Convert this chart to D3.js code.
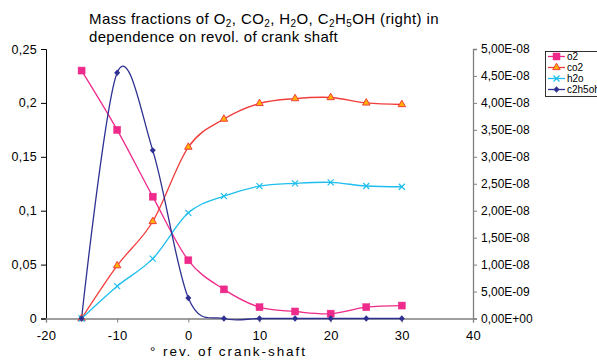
<!DOCTYPE html>
<html><head><meta charset="utf-8">
<script src="https://cdn.jsdelivr.net/npm/d3@7/dist/d3.min.js"></script>
<style>
body{margin:0;background:#fff;}
text{font-family:"Liberation Sans",Arial,sans-serif;}
</style></head>
<body><svg id="c" width="597" height="364"></svg>
<script>
const xs = [-15,-10,-5,0,5,10,15,20,25,30];
const o2 = [0.230,0.175,0.113,0.054,0.027,0.0105,0.0065,0.0045,0.0105,0.012];
const co2 = [0,0.049,0.090,0.159,0.185,0.1995,0.204,0.205,0.200,0.1985];
const h2o = [0,0.030,0.0555,0.098,0.1135,0.1228,0.1254,0.1263,0.1229,0.1222];
const c2h5oh = [0,4.56e-8,3.12e-8,0.38e-8,0,0,0,0,0,0];
const xTicks = [-20,-10,0,10,20,30,40];
const yLeftTicks = [0,0.05,0.1,0.15,0.2,0.25];
const yRightTicks = [0,5e-9,1e-8,1.5e-8,2e-8,2.5e-8,3e-8,3.5e-8,4e-8,4.5e-8,5e-8];
const seriesNames = ["o2","co2","h2o","c2h5oh"];

const svg = d3.select("#c");
const L=46, R=473, T=49, B=318.5;
const x = d3.scaleLinear().domain([-20,40]).range([L,R]);
const yl = d3.scaleLinear().domain([0,0.25]).range([B,T]);
const yr = d3.scaleLinear().domain([0,5e-8]).range([B,T]);

const fmtL = v => String(+v.toFixed(2)).replace(".",",");
const fmtR = v => {
  if (v===0) return "0,00E+00";
  const e = Math.floor(Math.log10(v)+1e-9);
  const m = v/Math.pow(10,e);
  const es = (e<0?"-":"+") + String(Math.abs(e)).padStart(2,"0");
  return m.toFixed(2).replace(".",",")+"E"+es;
};

// axes
const gL = svg.append("g").attr("transform",`translate(${L},0)`)
  .call(d3.axisLeft(yl).tickValues(yLeftTicks).tickFormat(fmtL).tickSize(5).tickPadding(4));
gL.select(".domain").attr("stroke","#000");
gL.selectAll(".tick line").attr("stroke","#000");
gL.selectAll("text").attr("font-size",12.5).attr("fill","#000").attr("letter-spacing",0.3);

const gR = svg.append("g").attr("transform",`translate(${R},0)`)
  .call(d3.axisRight(yr).tickValues(yRightTicks).tickFormat(fmtR).tickSize(4).tickPadding(4));
gR.select(".domain").attr("stroke","#808080").attr("stroke-width",1.3);
gR.selectAll(".tick line").attr("stroke","#808080");
gR.selectAll("text").attr("font-size",12).attr("fill","#000");

const gX = svg.append("g").attr("transform",`translate(0,${B})`)
  .call(d3.axisBottom(x).tickValues(xTicks).tickFormat(d=>String(d)).tickSize(4).tickPadding(8));
gX.select(".domain").attr("stroke","#808080").attr("stroke-width",1.3);
gX.selectAll(".tick line").attr("stroke","#808080");
gX.selectAll("text").attr("font-size",13).attr("fill","#000").attr("letter-spacing",0.3);

// title
const title = svg.append("text").attr("x",89).attr("y",24).attr("font-size",15)
  .attr("letter-spacing",0.4).attr("fill","#000");
const parts = [["Mass fractions of O",0],["2",1],[", CO",0],["2",1],[", H",0],["2",1],["O, C",0],["2",1],["H",0],["5",1],["OH (right) in",0]];
parts.forEach(([t,s],i)=>{
  const prev = i>0 ? parts[i-1][1] : 0;
  const ts = title.append("tspan").text(t)
    .attr("dy", s && !prev ? 3 : (!s && prev ? -3 : 0));
  if(s) ts.attr("font-size",10);
});
svg.append("text").attr("x",89).attr("y",42).attr("font-size",15).attr("letter-spacing",0.3)
  .attr("fill","#000").text("dependence on revol. of crank shaft");

svg.append("text").attr("x",150).attr("y",356)
  .attr("font-size",13.5).attr("fill","#000")
  .attr("textLength",155).attr("lengthAdjust","spacing").text("° rev. of crank-shaft");

// series
const curve = d3.curveCardinal.tension(0);
const series = [
  {name:"o2", vals:o2, y:yl, color:"#EE2A8A", marker:"square", fill:"#EE2A8A"},
  {name:"co2", vals:co2, y:yl, color:"#F23C3C", marker:"triangle", fill:"#FFB000"},
  {name:"h2o", vals:h2o, y:yl, color:"#1EBEEE", marker:"x", fill:"none"},
  {name:"c2h5oh", vals:c2h5oh, y:yr, color:"#2E3192", marker:"diamond", fill:"#2E3192"}
];

function drawMarker(g, type, cx, cy, s){
  if(type==="square"){
    g.append("rect").attr("x",cx-3.5).attr("y",cy-3.5).attr("width",7).attr("height",7)
      .attr("fill",s.fill).attr("stroke",s.color).attr("stroke-width",0.5);
  } else if(type==="triangle"){
    g.append("path").attr("d",d3.symbol(d3.symbolTriangle,24)()).attr("transform",`translate(${cx},${cy})`)
      .attr("fill",s.fill).attr("stroke",s.color).attr("stroke-width",1);
  } else if(type==="x"){
    g.append("path").attr("d",`M${cx-3},${cy-3}L${cx+3},${cy+3}M${cx-3},${cy+3}L${cx+3},${cy-3}`)
      .attr("stroke",s.color).attr("stroke-width",1.2);
  } else if(type==="diamond"){
    g.append("path").attr("d",`M${cx},${cy-3.2}L${cx+3},${cy}L${cx},${cy+3.2}L${cx-3},${cy}Z`)
      .attr("fill",s.fill);
  }
}

series.forEach(s=>{
  const line = d3.line().x((d,i)=>x(xs[i])).y(d=>s.y(d)).curve(curve);
  svg.append("path").datum(s.vals).attr("d",line).attr("fill","none")
    .attr("stroke",s.color).attr("stroke-width",1.3);
});
series.forEach(s=>{
  const g = svg.append("g");
  s.vals.forEach((v,i)=>drawMarker(g,s.marker,x(xs[i]),s.y(v),s));
});

// legend
const lg = svg.append("g");
lg.append("rect").attr("x",545.5).attr("y",51.5).attr("width",60).attr("height",45)
  .attr("fill","#fff").attr("stroke","#000").attr("stroke-width",0.8);
series.forEach((s,i)=>{
  const yy = 56.5 + i*11;
  lg.append("line").attr("x1",548).attr("x2",565).attr("y1",yy).attr("y2",yy)
    .attr("stroke",s.color).attr("stroke-width",1.3);
  drawMarker(lg,s.marker,556.5,yy,s);
  lg.append("text").attr("x",567).attr("y",yy+3.5).attr("font-size",10).attr("fill","#000").text(seriesNames[i]);
});
</script></body></html>
